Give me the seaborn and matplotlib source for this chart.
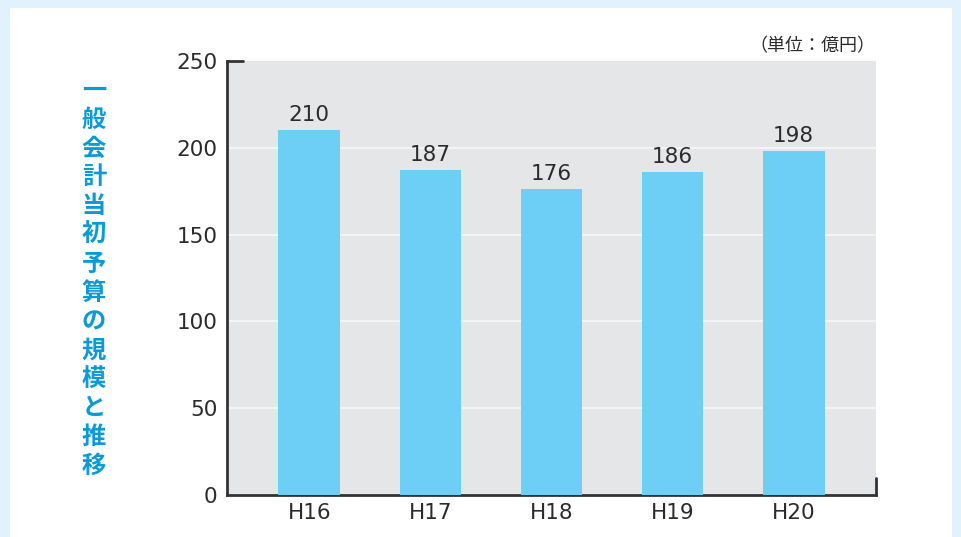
import matplotlib
matplotlib.use("Agg")
import matplotlib.pyplot as plt
import seaborn as sns
import pandas as pd
from matplotlib.patches import Rectangle

# Data
years = ["H16", "H17", "H18", "H19", "H20"]
budget = [210, 187, 176, 186, 198]
title_text = "一般会計当初予算の規模と推移"
unit_text = "（単位：億円）"

sns.set_style("white")
plt.rcParams["font.family"] = ["Noto Sans CJK JP", "DejaVu Sans"]

bar_color = "#6dcff6"
title_color = "#0a9ad6"
text_color = "#2b2b2b"

df = pd.DataFrame({"year": years, "budget": budget})

fig = plt.figure(figsize=(9.62, 5.37), dpi=100)
fig.patch.set_facecolor("#e1f2fc")
# white inner panel
fig.patches.append(Rectangle((10 / 962, 0), 942 / 962, 529 / 537,
                             transform=fig.transFigure, facecolor="white",
                             edgecolor="none", zorder=-1))

ax = fig.add_axes([227 / 962, 42 / 537, 649 / 962, 434 / 537])
ax.set_zorder(2)
ax.set_facecolor("#e5e6e8")

sns.barplot(data=df, x="year", y="budget", color=bar_color, width=0.51,
            saturation=1, linewidth=0, ax=ax, zorder=3)

ax.set_ylim(0, 250)
ax.set_xlim(-0.68, 4.68)
ax.set_yticks([0, 50, 100, 150, 200, 250])
ax.set_xlabel("")
ax.set_ylabel("")

# white gridlines
for v in [50, 100, 150, 200]:
    ax.axhline(v, color="#f4f4f5", lw=1.5, zorder=1)

# value labels
for i, v in enumerate(budget):
    ax.annotate(str(v), (i, v), xytext=(0, 4), textcoords="offset points",
                ha="center", va="bottom", fontsize=15.5, color=text_color,
                family="DejaVu Sans")

# spines
for s in ["top", "right"]:
    ax.spines[s].set_visible(False)
ax.spines["left"].set_color("#333333")
ax.spines["left"].set_linewidth(2)
ax.spines["bottom"].set_color("#333333")
ax.spines["bottom"].set_linewidth(2)
ax.tick_params(axis="y", direction="in", length=8, width=2, color="#888888",
               labelsize=15.5, labelcolor=text_color, pad=7)
ax.tick_params(axis="x", length=0, labelsize=15.5, labelcolor=text_color, pad=6)
for lab in ax.get_xticklabels() + ax.get_yticklabels():
    lab.set_family("DejaVu Sans")

# end caps: top tick at 250 and small vertical tick at right end
ax.plot([0, 0.024], [1, 1], transform=ax.transAxes, color="#333333", lw=2,
        clip_on=False, zorder=5)
ax.plot([1, 1], [0, 0.04], transform=ax.transAxes, color="#333333", lw=2,
        clip_on=False, zorder=5)

# unit label
fig.text(875 / 962, 1 - 46 / 537, unit_text, ha="right", va="center",
         fontsize=13, color=text_color)

# vertical title, one character per line
for k, ch in enumerate(title_text):
    y = 91 + k * 28.8
    fig.text(94 / 962, 1 - y / 537, ch, ha="center", va="center",
             fontsize=17.5, color=title_color, fontweight="bold")

fig.savefig("out.png", dpi=100, facecolor=fig.get_facecolor())
